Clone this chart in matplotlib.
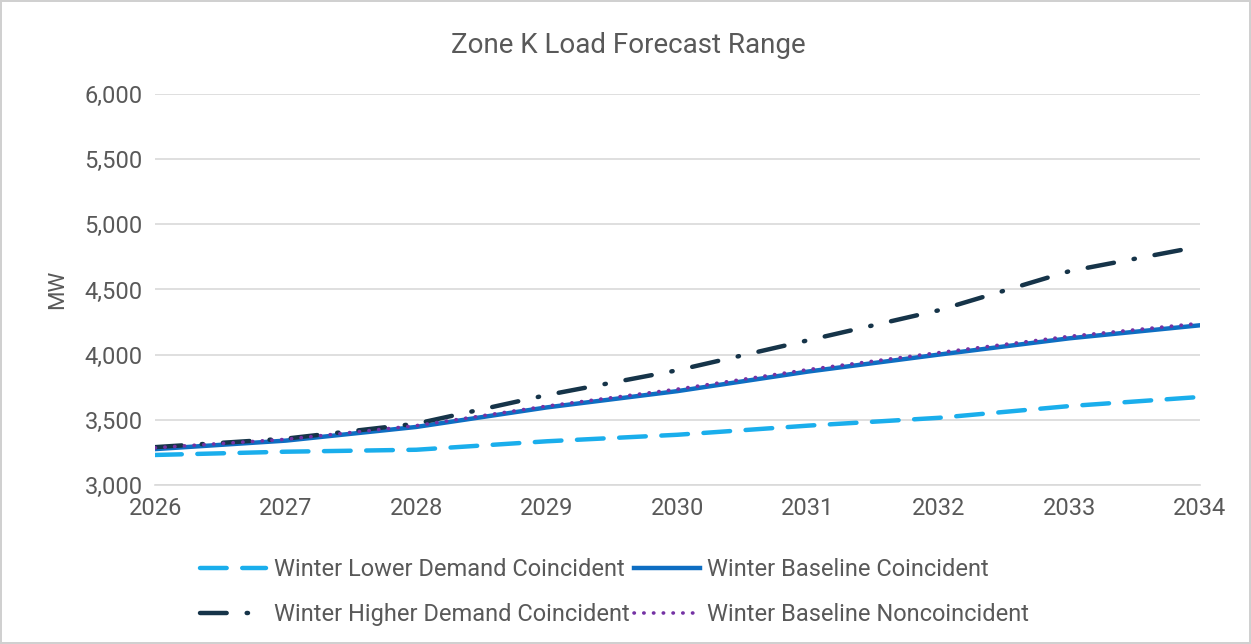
import matplotlib
matplotlib.use('Agg')
import matplotlib.pyplot as plt
from matplotlib.ticker import FuncFormatter

# Zone K winter load forecasts (MW)
years = [2026, 2027, 2028, 2029, 2030, 2031, 2032, 2033, 2034]
lower_coincident = [3230, 3255, 3270, 3335, 3385, 3455, 3515, 3605, 3675]
baseline_coincident = [3275, 3340, 3445, 3595, 3720, 3870, 4000, 4125, 4225]
higher_coincident = [3290, 3355, 3470, 3690, 3880, 4110, 4340, 4640, 4830]
baseline_noncoincident = [3285, 3350, 3455, 3605, 3735, 3885, 4015, 4140, 4240]

plt.rcParams['font.family'] = ['Roboto', 'DejaVu Sans']
text_col = '#595959'

fig = plt.figure(figsize=(12.51, 6.44), dpi=100)
fig.patch.set_edgecolor('#d0d0d0')
fig.patch.set_linewidth(1.5)
ax = fig.add_axes([0.124, 0.247, 0.835, 0.607])

l_low, = ax.plot(years, lower_coincident, color='#1AAEEC', lw=3.2,
                 dashes=(6, 3.5), dash_capstyle='round',
                 label='Winter Lower Demand Coincident')
l_base, = ax.plot(years, baseline_coincident, color='#0E6EC2', lw=3.2,
                  label='Winter Baseline Coincident')
l_high, = ax.plot(years, higher_coincident, color='#163449', lw=3.2,
                  dashes=(6, 4.5, 0.3, 4.5), dash_capstyle='round',
                  label='Winter Higher Demand Coincident')
l_non, = ax.plot(years, baseline_noncoincident, color='#7432A4', lw=2.6,
                 dashes=(0.1, 2.6), dash_capstyle='round',
                 label='Winter Baseline Noncoincident')

ax.set_xlim(2026, 2034)
ax.set_ylim(3000, 6000)
ax.set_xticks(years)
ax.set_yticks(range(3000, 6001, 500))
ax.yaxis.set_major_formatter(FuncFormatter(lambda v, p: f'{int(v):,}'))
ax.grid(axis='y', color='#d9d9d9', lw=1.2)
ax.set_axisbelow(True)
for side in ['top', 'right', 'left']:
    ax.spines[side].set_visible(False)
ax.spines['bottom'].set_color('#d9d9d9')
ax.spines['bottom'].set_linewidth(1.2)
ax.tick_params(length=0, labelsize=17, colors=text_col, pad=9)
ax.set_ylabel('MW', fontsize=16, color=text_col, labelpad=12)

# title is centred on the whole figure, not the plot area
fig.text(0.502, 0.93, 'Zone K Load Forecast Range', fontsize=20,
         color=text_col, ha='center', va='center')

# column-major fill: lower/higher in the first column, baselines in the second
ax.legend([l_low, l_high, l_base, l_non],
          [l.get_label() for l in (l_low, l_high, l_base, l_non)],
          loc='upper center', bbox_to_anchor=(0.44, -0.132), ncol=2,
          frameon=False, fontsize=17, labelcolor=text_col,
          handlelength=2.8, handletextpad=0.3, columnspacing=0.2,
          labelspacing=0.95)

fig.savefig('out.png', dpi=100)
